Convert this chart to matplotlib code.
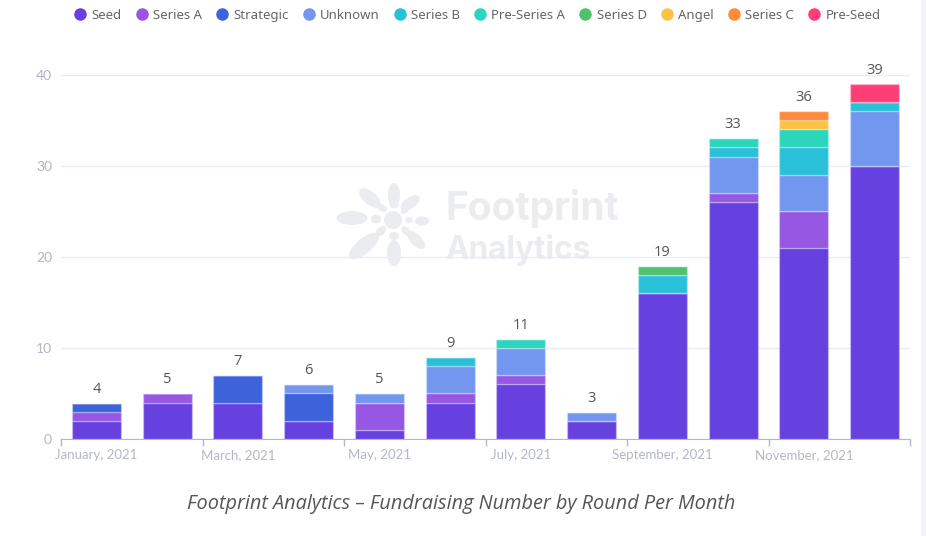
import matplotlib
matplotlib.use("Agg")
import matplotlib.pyplot as plt
import matplotlib.patches as patches
import numpy as np
from matplotlib.lines import Line2D

months = ["January, 2021", "February, 2021", "March, 2021", "April, 2021", "May, 2021", "June, 2021",
          "July, 2021", "August, 2021", "September, 2021", "October, 2021", "November, 2021", "December, 2021"]

seed = [2, 4, 4, 2, 1, 4, 6, 2, 16, 26, 21, 30]
series_a = [1, 1, 0, 0, 3, 1, 1, 0, 0, 1, 4, 0]
strategic = [1, 0, 3, 3, 0, 0, 0, 0, 0, 0, 0, 0]
unknown = [0, 0, 0, 1, 1, 3, 3, 1, 0, 4, 4, 6]
series_b = [0, 0, 0, 0, 0, 1, 0, 0, 2, 1, 3, 1]
pre_series_a = [0, 0, 0, 0, 0, 0, 1, 0, 0, 1, 2, 0]
series_d = [0, 0, 0, 0, 0, 0, 0, 0, 1, 0, 0, 0]
angel = [0, 0, 0, 0, 0, 0, 0, 0, 0, 0, 1, 0]
series_c = [0, 0, 0, 0, 0, 0, 0, 0, 0, 0, 1, 0]
pre_seed = [0, 0, 0, 0, 0, 0, 0, 0, 0, 0, 0, 2]

round_names = ["Seed", "Series A", "Strategic", "Unknown", "Series B", "Pre-Series A",
               "Series D", "Angel", "Series C", "Pre-Seed"]
round_values = [seed, series_a, strategic, unknown, series_b, pre_series_a,
                series_d, angel, series_c, pre_seed]
round_colors = ["#6741e0", "#9657e3", "#3d63db", "#7396ee", "#2bc0d9", "#2bd6bc",
                "#50c26f", "#fcc242", "#ff8a3d", "#ff3d77"]

W, H = 926, 536
TICK_COLOR = "#b4b7c9"
GRID_COLOR = "#e9ebf5"
MARK_COLOR = "#ebecef"

fig = plt.figure(figsize=(W / 100, H / 100), dpi=100)
ax = fig.add_axes([61 / W, 1 - 439 / H, 849 / W, 364.5 / H])
ax.patch.set_visible(False)

x = np.arange(len(months))
bottom = np.zeros(len(months))
for name, values, color in zip(round_names, round_values, round_colors):
    values = np.array(values)
    ax.bar(x, values, width=0.69, bottom=bottom, color=color, edgecolor=(1, 1, 1, 0.25),
           linewidth=1, zorder=3, label=name)
    bottom += values

for xi, total in zip(x, bottom):
    ax.annotate(f"{int(total)}", (xi, total), xytext=(0, 6), textcoords="offset pixels", ha="center",
                va="bottom", fontsize=10.5, color="#555555", family="Open Sans", zorder=5,
                annotation_clip=False)

ax.set_xlim(-0.5, len(months) - 0.5)
ax.set_ylim(0, 40)
ax.set_yticks([0, 10, 20, 30, 40])
ax.tick_params(axis="y", length=0, pad=6.5, labelsize=10, labelcolor="#b2b5c4")
ax.yaxis.grid(True, color=GRID_COLOR, linewidth=1, zorder=1)
ax.set_axisbelow(True)

# ticks sit between the bands, labels stay centred on every other band
ax.set_xticks(np.arange(-0.5, len(months), 2))
ax.set_xticklabels([])
ax.tick_params(axis="x", which="major", length=5, width=1, color=TICK_COLOR)
ax.set_xticks(x[::2], minor=True)
ax.set_xticklabels(months[::2], minor=True, fontsize=9.5, color=TICK_COLOR, family="Lato")
ax.tick_params(axis="x", which="minor", length=0, pad=7)
for label in ax.get_yticklabels():
    label.set_family("Lato")

for side in ["top", "right", "left"]:
    ax.spines[side].set_visible(False)
ax.spines["bottom"].set_color(TICK_COLOR)
ax.spines["bottom"].set_zorder(4)

# watermark, in pixel coordinates of the figure
mark = fig.add_axes([0, 0, 1, 1], zorder=-1)
mark.set_xlim(0, W)
mark.set_ylim(H, 0)
mark.axis("off")
petals = [
    (393, 220, 18, 18, 0), (352, 218, 31, 14, 0), (394, 195, 12, 24, 0), (370, 198, 26, 13, 40),
    (410, 203, 22, 11, -35), (422, 221, 14, 9, 0), (416, 240, 23, 11, 45), (394, 253, 14, 26, 0),
    (364, 246, 37, 15, -40), (376, 219, 10, 9, 0), (382, 208, 11, 7, 30), (394, 205, 9, 7, 0),
    (405, 210, 10, 6, -45), (409, 220, 7, 6, 0), (406, 231, 11, 7, 45), (394, 236, 10, 8, 0),
    (381, 231, 12, 8, -40),
]
for px, py, pw, ph, angle in petals:
    mark.add_patch(patches.Ellipse((px, py), pw, ph, angle=angle, facecolor=MARK_COLOR, edgecolor="none"))
mark.text(445, 209, "Footprint", fontsize=28, fontweight="bold", family="Inter", color=MARK_COLOR,
          ha="left", va="center")
mark.text(445, 250, "Analytics", fontsize=22.7, fontweight="bold", family="Inter", color=MARK_COLOR,
          ha="left", va="center")
mark.add_patch(patches.Rectangle((921, 0), 5, H, facecolor="#f2f3f9", edgecolor="none"))

handles = [Line2D([], [], linestyle="none", marker="o", markersize=8, color=c) for c in round_colors]
fig.legend(handles, round_names, loc="center", bbox_to_anchor=(477 / W, 1 - 15.5 / H), ncol=len(round_names),
           frameon=False, labelcolor="#666666", handlelength=1, handletextpad=0.35, columnspacing=1.03,
           prop={"family": "Noto Sans", "size": 9.5})

fig.text(461 / W, 1 - 504 / H, "Footprint Analytics \u2013 Fundraising Number by Round Per Month",
         ha="center", va="center", fontsize=14.3, style="italic", color="#555555", family="Open Sans")

fig.savefig("out.png", dpi=100)
plt.close(fig)
